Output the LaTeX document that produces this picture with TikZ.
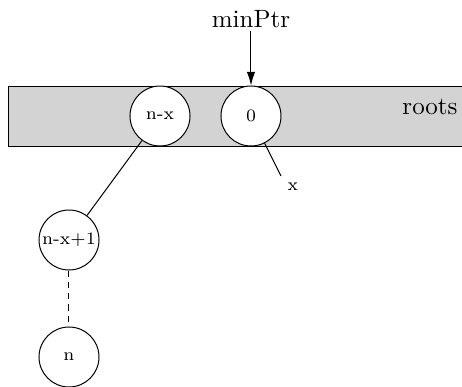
\documentclass[tikz,border=0pt]{standalone}
\usepackage{xcolor}
\usepackage{tikz}
\usetikzlibrary{arrows.meta}
\usetikzlibrary{positioning}
\definecolor{rootgray}{RGB}{211,211,211}

\begin{document}
\begin{tikzpicture}[x=0.4pt,y=-0.4pt,>={Latex[length=5.5pt,width=3.4pt]},thin]
	\tikzstyle{heap}=[draw, circle, minimum size=24pt, inner sep=0pt, fill=white, font=\scriptsize]
	\useasboundingbox (0,0) rectangle (462,387);
	% root list
	\draw[fill=rootgray] (9,86) rectangle (475,146);
	\node (roots) at (430,107) {roots};
	\node[heap] (NX) at (160,116) {n-x};
	\node[heap] (Z) at (251,116) {0};
	\node[heap] (NX1) at (69,240) {n-x+1};
	\node[heap] (N) at (69,357) {n};
	\node[inner sep=1pt] (minPtr) at (251,19) {minPtr};
	\coordinate (Xend) at (281,176);
	\node[font=\scriptsize] (X) at (293,187) {x};
	\path
		(minPtr) edge [->] (Z)
		(Z) edge (Xend)
		(NX) edge (NX1)
		(NX1) edge [dash pattern=on 2.5pt off 2pt] (N);
\end{tikzpicture}
\end{document}
